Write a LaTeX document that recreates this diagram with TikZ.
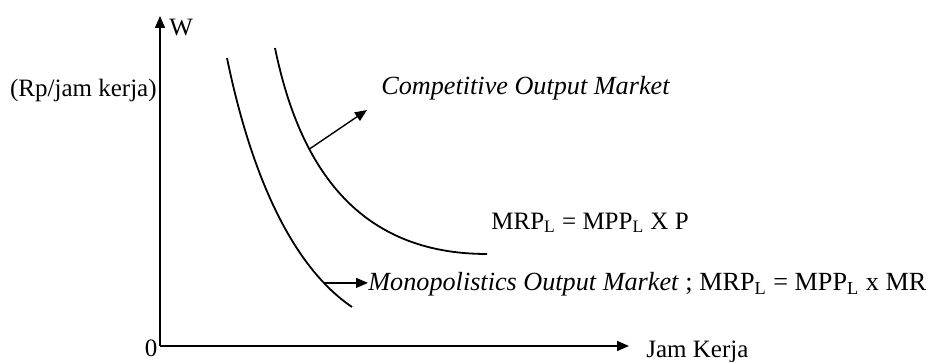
\documentclass[tikz,border=0pt]{standalone}
\usepackage{fontspec}
\setmainfont{Liberation Serif}
\usetikzlibrary{arrows.meta,positioning}

\begin{document}
\begin{tikzpicture}[x=0.5pt,y=-0.5pt,
  axisline/.style={line width=0.7pt,-{Triangle[length=6pt,width=5pt]}},
  mrpcurve/.style={line width=0.9pt},
  ptr/.style={line width=0.7pt,-{Triangle[length=6pt,width=5pt]}},
  lbl/.style={font=\fontsize{12.5}{15}\selectfont,inner sep=0pt},
  biglbl/.style={font=\fontsize{13.1}{15}\selectfont,inner sep=0pt}
]
  \useasboundingbox (0,0) rectangle (931,362);

  % Axes
  \coordinate (origin) at (160,346);
  \coordinate (ytop) at (160,16);
  \coordinate (xend) at (629,346);
  \draw[axisline] (origin) -- (ytop);
  \draw[axisline] (origin) -- (xend);
  \node[lbl,anchor=west] (wlbl) at (169,28) {W};
  \node[lbl,anchor=east] (ylbl) at (157,90) {(Rp/jam kerja)};
  \node[lbl] (zero) at (151,348) {0};
  \node[lbl,anchor=west] (xlbl) at (646,352) {Jam Kerja};

  % MRP curves
  \draw[mrpcurve] (227,58) .. controls (250,170) and (290,265) .. (352,307)
    coordinate[pos=0.84] (moncurve);
  \draw[mrpcurve] (275,48) .. controls (300,170) and (360,254) .. (487,254)
    coordinate[pos=0.31] (compcurve);

  % Labels
  \node[biglbl,anchor=west] (complbl) at (381,88) {\textit{Competitive Output Market}};
  \node[lbl,anchor=west] (mrpp) at (491,223) {MRP\textsubscript{L} = MPP\textsubscript{L} X P};
  \node[biglbl,anchor=west] (monlbl) at (368,284) {\textit{Monopolistics Output Market} ; MRP\textsubscript{L} = MPP\textsubscript{L} x MR};
  \coordinate (comptip) at (367,110);
  \draw[ptr] (compcurve) -- (comptip);
  \draw[ptr] (moncurve) -- (moncurve -| monlbl.west);
\end{tikzpicture}
\end{document}
